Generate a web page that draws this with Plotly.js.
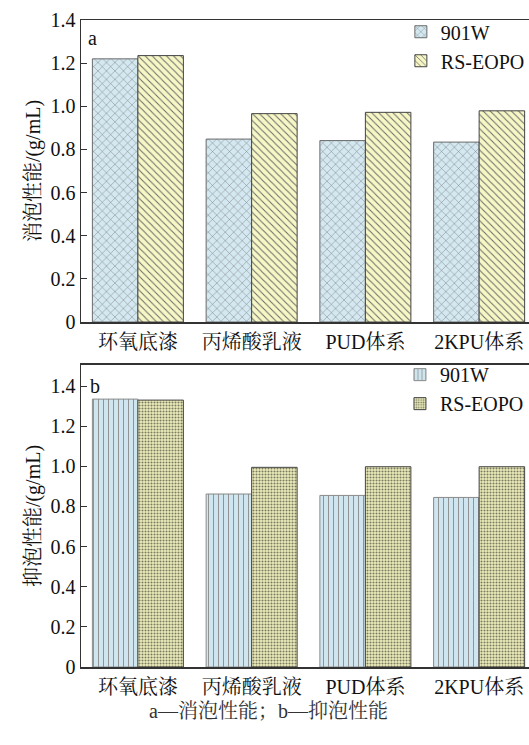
<!DOCTYPE html>
<html>
<head>
<meta charset="utf-8">
<script src="https://cdn.plot.ly/plotly-3.0.1.min.js"></script>
<style>html,body{margin:0;padding:0;background:#fff;overflow:hidden;width:529px;height:745px;}</style>
</head>
<body>
<div style="width:529px;height:745px;overflow:hidden;">
<div id="chart" style="width:560px;height:745px;"></div>
</div>
<script>
const categories = ["环氧底漆", "丙烯酸乳液", "PUD体系", "2KPU体系"];
const seriesNames = ["901W", "RS-EOPO"];
const defoam901W = [1.22, 0.848, 0.841, 0.834];
const defoamRS = [1.235, 0.966, 0.972, 0.979];
const suppress901W = [1.335, 0.862, 0.855, 0.845];
const suppressRS = [1.33, 0.995, 0.998, 0.998];
const yTickVals = [0, 0.2, 0.4, 0.6, 0.8, 1.0, 1.2, 1.4];
const yTickText = ["0", "0.2", "0.4", "0.6", "0.8", "1.0", "1.2", "1.4"];
const yTitleTop = "消泡性能/(g/mL)";
const yTitleBottom = "抑泡性能/(g/mL)";
const caption = "a—消泡性能；b—抑泡性能";

const SERIF = "Liberation Serif, 'Noto Serif CJK SC', 'Noto Sans CJK SC', serif";

const traces = [
  {type: "bar", name: seriesNames[0], x: categories, y: defoam901W, xaxis: "x", yaxis: "y", legend: "legend",
   marker: {color: "#d3e8f1", line: {color: "#6a6a6a", width: 1},
            pattern: {shape: "x", fgcolor: "#7a7a7a", bgcolor: "#d3e8f1", size: 6, solidity: 0.15}}},
  {type: "bar", name: seriesNames[1], x: categories, y: defoamRS, xaxis: "x", yaxis: "y", legend: "legend",
   marker: {color: "#f7f7c6", line: {color: "#444", width: 1},
            pattern: {shape: "\\", fgcolor: "#6a6a6a", bgcolor: "#f7f7c6", size: 5, solidity: 0.2}}},
  {type: "bar", name: seriesNames[0], x: categories, y: suppress901W, xaxis: "x2", yaxis: "y2", legend: "legend2",
   marker: {color: "#cfe6f0", line: {color: "#8a8a8a", width: 1},
            pattern: {shape: "|", fgcolor: "#8a8a8a", bgcolor: "#cfe6f0", size: 5, solidity: 0.18}}},
  {type: "bar", name: seriesNames[1], x: categories, y: suppressRS, xaxis: "x2", yaxis: "y2", legend: "legend2",
   marker: {color: "#eeeebc", line: {color: "#444", width: 1},
            pattern: {shape: ".", fgcolor: "#7a7a60", bgcolor: "#eeeebc", size: 3, solidity: 0.4}}}
];

const xBase = {
  type: "category", range: [-0.5, 3.5], showline: true, linecolor: "#333", linewidth: 1.5,
  mirror: true, ticks: "", showgrid: false, zeroline: false, ticklabelstandoff: 1, automargin: false,
  tickfont: {family: SERIF, size: 20, color: "#111"}, fixedrange: true
};
const yBase = {
  showline: true, linecolor: "#333", linewidth: 1.5, mirror: false, automargin: false,
  ticks: "inside", ticklen: 6, tickcolor: "#333", showgrid: false, zeroline: false,
  tickvals: yTickVals, ticktext: yTickText,
  tickfont: {family: SERIF, size: 20, color: "#111"}
};

const layout = {
  width: 560, height: 745,
  margin: {l: 81, r: 24, t: 20, b: 78},
  paper_bgcolor: "#fff", plot_bgcolor: "#fff",
  barmode: "group", bargap: 0.2, bargroupgap: 0,
  showlegend: true,
  xaxis: Object.assign({}, xBase, {anchor: "y", domain: [0, 1]}),
  xaxis2: Object.assign({}, xBase, {anchor: "y2", domain: [0, 1]}),
  yaxis: Object.assign({}, yBase, {anchor: "x", domain: [0.5332, 1], range: [0, 1.4],
    title: {text: yTitleTop, font: {family: SERIF, size: 20, color: "#111"}, standoff: 4}}),
  yaxis2: Object.assign({}, yBase, {anchor: "x2", domain: [0, 0.4668], range: [0, 1.505],
    title: {text: yTitleBottom, font: {family: SERIF, size: 20, color: "#111"}, standoff: 4}}),
  legend: {x: 0.703, y: 1.012, xanchor: "left", yanchor: "top", bgcolor: "rgba(0,0,0,0)",
    font: {family: SERIF, size: 20, color: "#111"}, tracegroupgap: 0, itemwidth: 30},
  legend2: {x: 0.701, y: 0.482, xanchor: "left", yanchor: "top", bgcolor: "rgba(0,0,0,0)",
    font: {family: SERIF, size: 20, color: "#111"}, tracegroupgap: 0, itemwidth: 30},
  annotations: [
    {text: "a", xref: "x domain", yref: "y domain", x: 0.012, y: 0.94, xanchor: "left", yanchor: "middle",
     showarrow: false, font: {family: SERIF, size: 20, color: "#111"}},
    {text: "b", xref: "x2 domain", yref: "y2 domain", x: 0.016, y: 0.93, xanchor: "left", yanchor: "middle",
     showarrow: false, font: {family: SERIF, size: 20, color: "#111"}},
    {text: caption, xref: "paper", yref: "paper", x: 0.411, y: -0.068, xanchor: "center", yanchor: "middle",
     showarrow: false, font: {family: SERIF, size: 20, color: "#333"}}
  ]
};

Plotly.newPlot("chart", traces, layout, {displayModeBar: false, staticPlot: true});
</script>
</body>
</html>
